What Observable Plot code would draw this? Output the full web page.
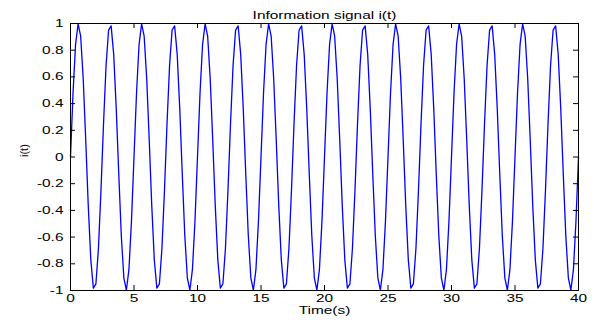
<!DOCTYPE html>
<html>
<head>
<meta charset="utf-8">
<script src="https://cdn.jsdelivr.net/npm/d3@7"></script>
<script src="https://cdn.jsdelivr.net/npm/@observablehq/plot@0.6"></script>
<style>
  html, body { margin: 0; padding: 0; background: #fff; }
</style>
</head>
<body>
<div id="chart"></div>
<script>
const title = "Information signal i(t)";
const xLabel = "Time(s)";
const yLabel = "i(t)";
const sampleStep = 0.2; // seconds between samples
const xTicks = [0, 5, 10, 15, 20, 25, 30, 35, 40];
const yTicks = [-1, -0.8, -0.6, -0.4, -0.2, 0, 0.2, 0.4, 0.6, 0.8, 1];
const signal = [
  0, 0.482, 0.844, 0.998, 0.905, 0.588, 0.125, -0.368, -0.771, -0.982, -0.951, -0.685, -0.249, 0.249, 0.685, 0.951, 0.982, 0.771, 0.368, -0.125, -0.588, -0.905, -0.998, -0.844, -0.482,
  0, 0.482, 0.844, 0.998, 0.905, 0.588, 0.125, -0.368, -0.771, -0.982, -0.951, -0.685, -0.249, 0.249, 0.685, 0.951, 0.982, 0.771, 0.368, -0.125, -0.588, -0.905, -0.998, -0.844, -0.482,
  0, 0.482, 0.844, 0.998, 0.905, 0.588, 0.125, -0.368, -0.771, -0.982, -0.951, -0.685, -0.249, 0.249, 0.685, 0.951, 0.982, 0.771, 0.368, -0.125, -0.588, -0.905, -0.998, -0.844, -0.482,
  0, 0.482, 0.844, 0.998, 0.905, 0.588, 0.125, -0.368, -0.771, -0.982, -0.951, -0.685, -0.249, 0.249, 0.685, 0.951, 0.982, 0.771, 0.368, -0.125, -0.588, -0.905, -0.998, -0.844, -0.482,
  0, 0.482, 0.844, 0.998, 0.905, 0.588, 0.125, -0.368, -0.771, -0.982, -0.951, -0.685, -0.249, 0.249, 0.685, 0.951, 0.982, 0.771, 0.368, -0.125, -0.588, -0.905, -0.998, -0.844, -0.482,
  0, 0.482, 0.844, 0.998, 0.905, 0.588, 0.125, -0.368, -0.771, -0.982, -0.951, -0.685, -0.249, 0.249, 0.685, 0.951, 0.982, 0.771, 0.368, -0.125, -0.588, -0.905, -0.998, -0.844, -0.482,
  0, 0.482, 0.844, 0.998, 0.905, 0.588, 0.125, -0.368, -0.771, -0.982, -0.951, -0.685, -0.249, 0.249, 0.685, 0.951, 0.982, 0.771, 0.368, -0.125, -0.588, -0.905, -0.998, -0.844, -0.482,
  0, 0.482, 0.844, 0.998, 0.905, 0.588, 0.125, -0.368, -0.771, -0.982, -0.951, -0.685, -0.249, 0.249, 0.685, 0.951, 0.982, 0.771, 0.368, -0.125, -0.588, -0.905, -0.998, -0.844, -0.482,
  0
];

const data = signal.map((v, i) => ({t: i * sampleStep, v}));

const W = 594, H = 320;
const mL = 70, mR = 16, mT = 23, mB = 30;
const fw = W - mL - mR, fh = H - mT - mB;
const tick = 5;

const chart = Plot.plot({
  width: W,
  height: H,
  marginLeft: mL,
  marginRight: mR,
  marginTop: mT,
  marginBottom: mB,
  style: {fontFamily: "'Liberation Sans', Arial, sans-serif", fontSize: "11px", color: "#000", background: "#fff"},
  x: {domain: [0, 40]},
  y: {domain: [-1, 1]},
  marks: [
    Plot.line(data, {x: "t", y: "v", stroke: "#0000ff", strokeWidth: 1.3}),
    Plot.frame({stroke: "#000", strokeWidth: 1}),
    Plot.tickX(xTicks, {x: d => d, insetTop: fh - tick, stroke: "#000"}),
    Plot.tickX(xTicks, {x: d => d, insetBottom: fh - tick, stroke: "#000"}),
    Plot.tickY(yTicks, {y: d => d, insetRight: fw - tick, stroke: "#000"}),
    Plot.tickY(yTicks, {y: d => d, insetLeft: fw - tick, stroke: "#000"}),
    Plot.axisX(xTicks, {tickSize: 0, tickPadding: 4, label: null, tickFormat: d => String(d)}),
    Plot.axisY(yTicks, {tickSize: 0, tickPadding: 7, label: null, tickFormat: d => String(d)}),
    Plot.text([title], {frameAnchor: "top", dy: -12, fontSize: 11}),
    Plot.text([xLabel], {frameAnchor: "bottom", dy: 23, fontSize: 11}),
    Plot.text([yLabel], {frameAnchor: "left", dx: -46, rotate: -90, fontSize: 11, className: "ylab"})
  ]
});
document.getElementById("chart").appendChild(chart);

// The reference's lettering is stretched horizontally (~1.4x)
chart.querySelectorAll("text").forEach(el => {
  if (el.closest(".ylab")) return;
  const len = el.getComputedTextLength();
  if (len > 0) {
    el.setAttribute("textLength", (len * 1.4).toFixed(1));
    el.setAttribute("lengthAdjust", "spacingAndGlyphs");
  }
});
</script>
</body>
</html>
